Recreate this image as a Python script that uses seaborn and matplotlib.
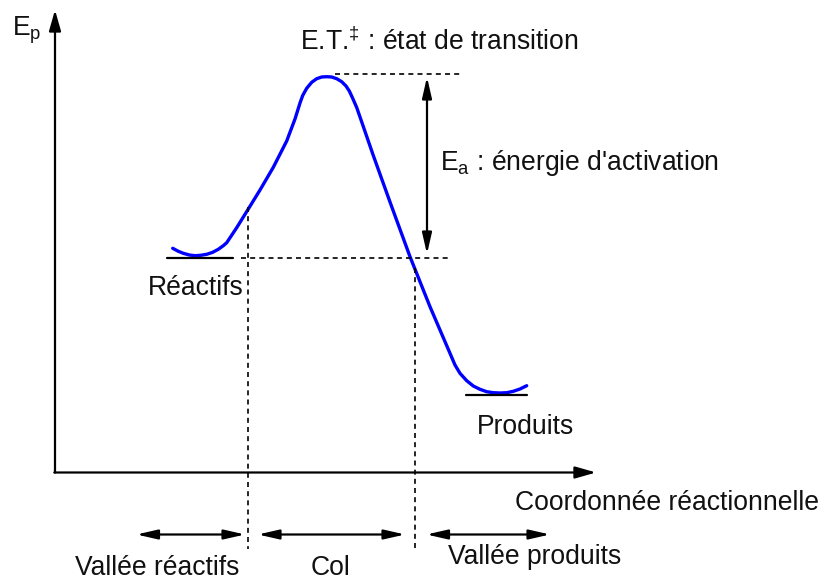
import matplotlib
matplotlib.use("Agg")
import matplotlib.pyplot as plt
import seaborn as sns
import pandas as pd

# ---- data (pixel-like units, y grows downward = lower energy) ----
curve_x = [172.7, 178.3, 183.3, 189.3, 195, 200.7, 206.7, 212.7, 218.3, 223.3, 226.7,
           236.7, 248.3, 260, 273.3, 286.7, 295, 300, 302.7, 306.7, 311.7, 316.7,
           321.7, 326.7, 331.7, 336.7, 341.7, 346, 349.3, 352.7, 356.7, 363.3,
           373.3, 390, 410, 430, 450, 455, 460, 466.7, 473.3, 480, 486.7, 493.3,
           500, 506.7, 513.3, 520, 526.7]
curve_y = [248.3, 251.3, 253.3, 255, 255.7, 255.3, 254.3, 252.3, 249.3, 245.7, 242.7,
           227.7, 209, 190, 167.3, 141, 119, 103, 95.5, 88.3, 82.3, 78.7,
           77, 76.7, 77, 78.7, 81.7, 86, 91, 98.3, 107.5, 126.5,
           155.5, 202, 256.7, 306.7, 353.3, 365, 373.3, 380.7, 386, 389.3, 391.7, 392.7,
           393, 392.7, 391.3, 389, 385.7]

level_reactifs = 258
level_produits = 394.5
level_ts = 74
col_bounds = [248, 415]

labels = {
    "ep": r"E$_{\mathrm{p}}$",
    "ts": r"E.T.$^{\mathrm{‡}}$ : état de transition",
    "ea": r"E$_{\mathrm{a}}$ : énergie d'activation",
    "reac": "Réactifs",
    "prod": "Produits",
    "xlab": "Coordonnée réactionnelle",
    "v_reac": "Vallée réactifs",
    "col": "Col",
    "v_prod": "Vallée produits",
}

sns.set_theme(style="white")
plt.rcParams["font.family"] = ["Liberation Sans", "DejaVu Sans"]
plt.rcParams["mathtext.fontset"] = "custom"
plt.rcParams["mathtext.rm"] = "Liberation Sans"
plt.rcParams["mathtext.it"] = "Liberation Sans:italic"
plt.rcParams["mathtext.bf"] = "Liberation Sans:bold"

fig = plt.figure(figsize=(8.21, 5.80), dpi=100)
ax = fig.add_axes([0, 0, 1, 1])

df = pd.DataFrame({"x": curve_x, "y": curve_y})
sns.lineplot(data=df, x="x", y="y", sort=False, estimator=None, ax=ax,
             color="#0000FF", linewidth=2.4, solid_capstyle="round",
             solid_joinstyle="round", legend=False)
ax.set_xlim(0, 821)
ax.set_ylim(580, 0)
ax.axis("off")

black = "black"
fs = 19.1

# axes arrows
axis_arrow = dict(arrowstyle="-|>,head_length=0.7,head_width=0.2",
                  color=black, lw=1.6, shrinkA=0, shrinkB=0, mutation_scale=18)
ax.annotate("", xy=(55, 10), xytext=(55, 472.5), arrowprops=axis_arrow)
ax.annotate("", xy=(596, 472.5), xytext=(54.3, 472.5), arrowprops=axis_arrow)

# level lines
ax.plot([167, 233], [level_reactifs] * 2, color=black, lw=1.6)
ax.plot([466, 527], [level_produits] * 2, color=black, lw=1.6)

dash = (3.0, 2.5)
dlw = 1.2
ax.plot([241, 449], [level_reactifs] * 2, color=black, lw=dlw, dashes=dash)
ax.plot([335, 462], [level_ts] * 2, color=black, lw=dlw, dashes=dash)
ax.plot([col_bounds[0]] * 2, [207, 549], color=black, lw=dlw, dashes=dash)
ax.plot([col_bounds[1]] * 2, [268, 549], color=black, lw=dlw, dashes=dash)

dbl = dict(arrowstyle="<|-|>,head_length=0.7,head_width=0.16", color=black,
           lw=1.6, shrinkA=0, shrinkB=0, mutation_scale=18)
ax.annotate("", xy=(427, 77), xytext=(427, 254), arrowprops=dbl)
ax.annotate("", xy=(136.5, 534.5), xytext=(245, 534.5), arrowprops=dbl)
ax.annotate("", xy=(258, 534.5), xytext=(405, 534.5), arrowprops=dbl)
ax.annotate("", xy=(426.5, 534.5), xytext=(550, 534.5), arrowprops=dbl)

# texts
def t(x, y, s):
    ax.text(x, y, s, fontsize=fs, ha="left", va="baseline", color="#111111")

t(12.5, 36, labels["ep"])
t(300.5, 50, labels["ts"])
t(439.5, 170, labels["ea"])
t(148, 295, labels["reac"])
t(476.5, 433.5, labels["prod"])
t(515, 510.5, labels["xlab"])
t(75, 575, labels["v_reac"])
t(311, 575, labels["col"])
t(448, 563.5, labels["v_prod"])

fig.savefig("out.png", dpi=100)
